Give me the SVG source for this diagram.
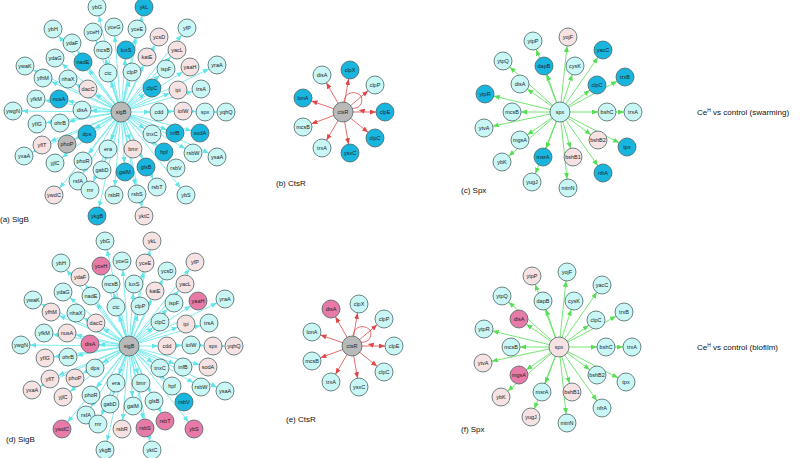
<svg xmlns="http://www.w3.org/2000/svg" width="800" height="458" viewBox="0 0 800 458">
<style>
text{font-family:"Liberation Sans",Arial,sans-serif}
.n circle{stroke:#4a6464;stroke-width:0.8}
.n text{font-size:5.5px;fill:#222;text-anchor:middle;dominant-baseline:central}
.c circle{fill:#c9f7f6}.b circle{fill:#18b5de}.p circle{fill:#f6e2e2}.h circle{fill:#e87aa8}.g circle{fill:#b9b9b9}
.ec line{stroke:#5fe6ea;stroke-width:0.8;marker-end:url(#ac)}
.er line{stroke:#e04848;stroke-width:0.8;marker-end:url(#ar)}
.eg line{stroke:#52e052;stroke-width:0.8;marker-end:url(#ag)}
.lab{font-size:8px;fill:#111}
</style>
<defs>
<marker id="ac" markerUnits="userSpaceOnUse" markerWidth="20" markerHeight="8" refX="15" refY="2.5" orient="auto"><path d="M0,0L6,2.5L0,5z" fill="#5fe6ea"/></marker>
<marker id="ar" markerUnits="userSpaceOnUse" markerWidth="20" markerHeight="8" refX="15" refY="2.5" orient="auto"><path d="M0,0L6,2.5L0,5z" fill="#e04848"/></marker>
<marker id="ag" markerUnits="userSpaceOnUse" markerWidth="20" markerHeight="8" refX="15" refY="2.5" orient="auto"><path d="M0,0L6,2.5L0,5z" fill="#52e052"/></marker>
</defs>
<rect width="800" height="458" fill="#fff"/>

<!-- SigB (a) -->
<g id="connectors-sigB-a" class="ec">
<line x1="121" y1="112" x2="97" y2="7"/><line x1="121" y1="112" x2="144" y2="7"/><line x1="121" y1="112" x2="53" y2="29"/><line x1="121" y1="112" x2="93" y2="32"/><line x1="121" y1="112" x2="114" y2="27"/><line x1="121" y1="112" x2="137" y2="29"/><line x1="121" y1="112" x2="187" y2="28"/><line x1="121" y1="112" x2="159" y2="37"/><line x1="121" y1="112" x2="72" y2="43"/><line x1="121" y1="112" x2="103" y2="50"/><line x1="121" y1="112" x2="126" y2="50"/><line x1="121" y1="112" x2="147" y2="57"/><line x1="121" y1="112" x2="177" y2="50"/><line x1="121" y1="112" x2="55" y2="58"/><line x1="121" y1="112" x2="83" y2="62"/><line x1="121" y1="112" x2="190" y2="67"/><line x1="121" y1="112" x2="217" y2="65"/><line x1="121" y1="112" x2="25" y2="66"/><line x1="121" y1="112" x2="43" y2="78"/><line x1="121" y1="112" x2="68" y2="79"/><line x1="121" y1="112" x2="108" y2="73"/><line x1="121" y1="112" x2="132" y2="72"/><line x1="121" y1="112" x2="166" y2="69"/><line x1="121" y1="112" x2="88" y2="89"/><line x1="121" y1="112" x2="152" y2="88"/><line x1="121" y1="112" x2="178" y2="90"/><line x1="121" y1="112" x2="201" y2="89"/><line x1="121" y1="112" x2="36" y2="99"/><line x1="121" y1="112" x2="59" y2="99"/><line x1="121" y1="112" x2="82" y2="110"/><line x1="121" y1="112" x2="159" y2="112"/><line x1="159" y1="112" x2="183" y2="111"/><line x1="183" y1="111" x2="205" y2="112"/><line x1="205" y1="112" x2="226" y2="112"/><line x1="121" y1="112" x2="13" y2="111"/><line x1="121" y1="112" x2="37" y2="124"/><line x1="121" y1="112" x2="60" y2="123"/><line x1="121" y1="112" x2="87" y2="134"/><line x1="121" y1="112" x2="152" y2="134"/><line x1="121" y1="112" x2="175" y2="133"/><line x1="121" y1="112" x2="200" y2="133"/><line x1="121" y1="112" x2="42" y2="145"/><line x1="121" y1="112" x2="67" y2="144"/><line x1="121" y1="112" x2="24" y2="156"/><line x1="121" y1="112" x2="55" y2="163"/><line x1="121" y1="112" x2="83" y2="161"/><line x1="121" y1="112" x2="108" y2="149"/><line x1="121" y1="112" x2="133" y2="149"/><line x1="121" y1="112" x2="164" y2="152"/><line x1="121" y1="112" x2="193" y2="153"/><line x1="121" y1="112" x2="217" y2="157"/><line x1="121" y1="112" x2="78" y2="181"/><line x1="121" y1="112" x2="102" y2="170"/><line x1="121" y1="112" x2="125" y2="172"/><line x1="121" y1="112" x2="146" y2="167"/><line x1="121" y1="112" x2="176" y2="168"/><line x1="121" y1="112" x2="54" y2="195"/><line x1="121" y1="112" x2="90" y2="190"/><line x1="121" y1="112" x2="114" y2="195"/><line x1="121" y1="112" x2="137" y2="194"/><line x1="121" y1="112" x2="157" y2="187"/><line x1="121" y1="112" x2="186" y2="195"/><line x1="121" y1="112" x2="97" y2="216"/><line x1="121" y1="112" x2="144" y2="216"/>
</g>
<g id="nodes-sigB-a">
<g id="a-ybG" class="n c"><circle cx="97" cy="7" r="9"/><text x="97" y="7">ybG</text></g>
<g id="a-ykL" class="n b"><circle cx="144" cy="7" r="9"/><text x="144" y="7">ykL</text></g>
<g id="a-ybH" class="n c"><circle cx="53" cy="29" r="9"/><text x="53" y="29">ybH</text></g>
<g id="a-yceH" class="n c"><circle cx="93" cy="32" r="9"/><text x="93" y="32">yceH</text></g>
<g id="a-yceG" class="n c"><circle cx="114" cy="27" r="9"/><text x="114" y="27">yceG</text></g>
<g id="a-yceE" class="n c"><circle cx="137" cy="29" r="9"/><text x="137" y="29">yceE</text></g>
<g id="a-yfP" class="n c"><circle cx="187" cy="28" r="9"/><text x="187" y="28">yfP</text></g>
<g id="a-ycsD" class="n p"><circle cx="159" cy="37" r="9"/><text x="159" y="37">ycsD</text></g>
<g id="a-ydaF" class="n c"><circle cx="72" cy="43" r="9"/><text x="72" y="43">ydaF</text></g>
<g id="a-mcsB" class="n c"><circle cx="103" cy="50" r="9"/><text x="103" y="50">mcsB</text></g>
<g id="a-luxS" class="n b"><circle cx="126" cy="50" r="9"/><text x="126" y="50">luxS</text></g>
<g id="a-katE" class="n p"><circle cx="147" cy="57" r="9"/><text x="147" y="57">katE</text></g>
<g id="a-yacL" class="n p"><circle cx="177" cy="50" r="9"/><text x="177" y="50">yacL</text></g>
<g id="a-ydaG" class="n c"><circle cx="55" cy="58" r="9"/><text x="55" y="58">ydaG</text></g>
<g id="a-nadE" class="n b"><circle cx="83" cy="62" r="9"/><text x="83" y="62">nadE</text></g>
<g id="a-yaaH" class="n p"><circle cx="190" cy="67" r="9"/><text x="190" y="67">yaaH</text></g>
<g id="a-yraA" class="n c"><circle cx="217" cy="65" r="9"/><text x="217" y="65">yraA</text></g>
<g id="a-ywaK" class="n c"><circle cx="25" cy="66" r="9"/><text x="25" y="66">ywaK</text></g>
<g id="a-yfhM" class="n c"><circle cx="43" cy="78" r="9"/><text x="43" y="78">yfhM</text></g>
<g id="a-nhaX" class="n c"><circle cx="68" cy="79" r="9"/><text x="68" y="79">nhaX</text></g>
<g id="a-ctc" class="n c"><circle cx="108" cy="73" r="9"/><text x="108" y="73">ctc</text></g>
<g id="a-clpP" class="n c"><circle cx="132" cy="72" r="9"/><text x="132" y="72">clpP</text></g>
<g id="a-ispF" class="n c"><circle cx="166" cy="69" r="9"/><text x="166" y="69">ispF</text></g>
<g id="a-dacC" class="n p"><circle cx="88" cy="89" r="9"/><text x="88" y="89">dacC</text></g>
<g id="a-clpC" class="n b"><circle cx="152" cy="88" r="9"/><text x="152" y="88">clpC</text></g>
<g id="a-ipi" class="n p"><circle cx="178" cy="90" r="9"/><text x="178" y="90">ipi</text></g>
<g id="a-trsA" class="n c"><circle cx="201" cy="89" r="9"/><text x="201" y="89">trsA</text></g>
<g id="a-yfkM" class="n c"><circle cx="36" cy="99" r="9"/><text x="36" y="99">yfkM</text></g>
<g id="a-nusA" class="n b"><circle cx="59" cy="99" r="9"/><text x="59" y="99">nusA</text></g>
<g id="a-disA" class="n c"><circle cx="82" cy="110" r="9"/><text x="82" y="110">disA</text></g>
<g id="a-cdd" class="n c"><circle cx="159" cy="112" r="9"/><text x="159" y="112">cdd</text></g>
<g id="a-iolW" class="n p"><circle cx="183" cy="111" r="9"/><text x="183" y="111">iolW</text></g>
<g id="a-spx" class="n c"><circle cx="205" cy="112" r="9"/><text x="205" y="112">spx</text></g>
<g id="a-yqhQ" class="n c"><circle cx="226" cy="112" r="9"/><text x="226" y="112">yqhQ</text></g>
<g id="a-ywgN" class="n c"><circle cx="13" cy="111" r="9"/><text x="13" y="111">ywgN</text></g>
<g id="a-yflG" class="n c"><circle cx="37" cy="124" r="9"/><text x="37" y="124">yflG</text></g>
<g id="a-ohrB" class="n c"><circle cx="60" cy="123" r="9"/><text x="60" y="123">ohrB</text></g>
<g id="a-dps" class="n b"><circle cx="87" cy="134" r="9"/><text x="87" y="134">dps</text></g>
<g id="a-tnxC" class="n c"><circle cx="152" cy="134" r="9"/><text x="152" y="134">tnxC</text></g>
<g id="a-infB" class="n b"><circle cx="175" cy="133" r="9"/><text x="175" y="133">infB</text></g>
<g id="a-sodA" class="n b"><circle cx="200" cy="133" r="9"/><text x="200" y="133">sodA</text></g>
<g id="a-yflT" class="n p"><circle cx="42" cy="145" r="9"/><text x="42" y="145">yflT</text></g>
<g id="a-phoP" class="n g"><circle cx="67" cy="144" r="9"/><text x="67" y="144">phoP</text></g>
<g id="a-yxaA" class="n c"><circle cx="24" cy="156" r="9"/><text x="24" y="156">yxaA</text></g>
<g id="a-yjlC" class="n c"><circle cx="55" cy="163" r="9"/><text x="55" y="163">yjlC</text></g>
<g id="a-phoR" class="n c"><circle cx="83" cy="161" r="9"/><text x="83" y="161">phoR</text></g>
<g id="a-era" class="n c"><circle cx="108" cy="149" r="9"/><text x="108" y="149">era</text></g>
<g id="a-bmr" class="n p"><circle cx="133" cy="149" r="9"/><text x="133" y="149">bmr</text></g>
<g id="a-hpf" class="n b"><circle cx="164" cy="152" r="9"/><text x="164" y="152">hpf</text></g>
<g id="a-rsbW" class="n c"><circle cx="193" cy="153" r="9"/><text x="193" y="153">rsbW</text></g>
<g id="a-ysaA" class="n c"><circle cx="217" cy="157" r="9"/><text x="217" y="157">ysaA</text></g>
<g id="a-rsfA" class="n c"><circle cx="78" cy="181" r="9"/><text x="78" y="181">rsfA</text></g>
<g id="a-gabD" class="n c"><circle cx="102" cy="170" r="9"/><text x="102" y="170">gabD</text></g>
<g id="a-galM" class="n b"><circle cx="125" cy="172" r="9"/><text x="125" y="172">galM</text></g>
<g id="a-glsB" class="n b"><circle cx="146" cy="167" r="9"/><text x="146" y="167">glsB</text></g>
<g id="a-rsbV" class="n c"><circle cx="176" cy="168" r="9"/><text x="176" y="168">rsbV</text></g>
<g id="a-ywdC" class="n p"><circle cx="54" cy="195" r="9"/><text x="54" y="195">ywdC</text></g>
<g id="a-rnr" class="n c"><circle cx="90" cy="190" r="9"/><text x="90" y="190">rnr</text></g>
<g id="a-rsbR" class="n c"><circle cx="114" cy="195" r="9"/><text x="114" y="195">rsbR</text></g>
<g id="a-rsbS" class="n c"><circle cx="137" cy="194" r="9"/><text x="137" y="194">rsbS</text></g>
<g id="a-rsbT" class="n c"><circle cx="157" cy="187" r="9"/><text x="157" y="187">rsbT</text></g>
<g id="a-ybS" class="n c"><circle cx="186" cy="195" r="9"/><text x="186" y="195">ybS</text></g>
<g id="a-ykgB" class="n b"><circle cx="97" cy="216" r="9"/><text x="97" y="216">ykgB</text></g>
<g id="a-yktC" class="n p"><circle cx="144" cy="216" r="9"/><text x="144" y="216">yktC</text></g>
<g id="a-sigB" class="n g"><circle cx="121" cy="112" r="10"/><text x="121" y="112">sigB</text></g>
</g>
<text class="lab" x="0" y="222">(a) SigB</text>

<!-- SigB (d) -->
<g transform="translate(8,234)">
<use href="#connectors-sigB-a"/>
<g id="nodes-sigB-d">
<g id="d-ybG" class="n c"><circle cx="97" cy="7" r="9"/><text x="97" y="7">ybG</text></g>
<g id="d-ykL" class="n p"><circle cx="144" cy="7" r="9"/><text x="144" y="7">ykL</text></g>
<g id="d-ybH" class="n c"><circle cx="53" cy="29" r="9"/><text x="53" y="29">ybH</text></g>
<g id="d-yceH" class="n h"><circle cx="93" cy="32" r="9"/><text x="93" y="32">yceH</text></g>
<g id="d-yceG" class="n c"><circle cx="114" cy="27" r="9"/><text x="114" y="27">yceG</text></g>
<g id="d-yceE" class="n p"><circle cx="137" cy="29" r="9"/><text x="137" y="29">yceE</text></g>
<g id="d-yfP" class="n p"><circle cx="187" cy="28" r="9"/><text x="187" y="28">yfP</text></g>
<g id="d-ycsD" class="n c"><circle cx="159" cy="37" r="9"/><text x="159" y="37">ycsD</text></g>
<g id="d-ydaF" class="n p"><circle cx="72" cy="43" r="9"/><text x="72" y="43">ydaF</text></g>
<g id="d-mcsB" class="n c"><circle cx="103" cy="50" r="9"/><text x="103" y="50">mcsB</text></g>
<g id="d-luxS" class="n c"><circle cx="126" cy="50" r="9"/><text x="126" y="50">luxS</text></g>
<g id="d-katE" class="n p"><circle cx="147" cy="57" r="9"/><text x="147" y="57">katE</text></g>
<g id="d-yacL" class="n p"><circle cx="177" cy="50" r="9"/><text x="177" y="50">yacL</text></g>
<g id="d-ydaG" class="n c"><circle cx="55" cy="58" r="9"/><text x="55" y="58">ydaG</text></g>
<g id="d-nadE" class="n c"><circle cx="83" cy="62" r="9"/><text x="83" y="62">nadE</text></g>
<g id="d-yaaH" class="n h"><circle cx="190" cy="67" r="9"/><text x="190" y="67">yaaH</text></g>
<g id="d-yraA" class="n c"><circle cx="217" cy="65" r="9"/><text x="217" y="65">yraA</text></g>
<g id="d-ywaK" class="n c"><circle cx="25" cy="66" r="9"/><text x="25" y="66">ywaK</text></g>
<g id="d-yfhM" class="n p"><circle cx="43" cy="78" r="9"/><text x="43" y="78">yfhM</text></g>
<g id="d-nhaX" class="n c"><circle cx="68" cy="79" r="9"/><text x="68" y="79">nhaX</text></g>
<g id="d-ctc" class="n c"><circle cx="108" cy="73" r="9"/><text x="108" y="73">ctc</text></g>
<g id="d-clpP" class="n c"><circle cx="132" cy="72" r="9"/><text x="132" y="72">clpP</text></g>
<g id="d-ispF" class="n c"><circle cx="166" cy="69" r="9"/><text x="166" y="69">ispF</text></g>
<g id="d-dacC" class="n p"><circle cx="88" cy="89" r="9"/><text x="88" y="89">dacC</text></g>
<g id="d-clpC" class="n c"><circle cx="152" cy="88" r="9"/><text x="152" y="88">clpC</text></g>
<g id="d-ipi" class="n p"><circle cx="178" cy="90" r="9"/><text x="178" y="90">ipi</text></g>
<g id="d-trsA" class="n c"><circle cx="201" cy="89" r="9"/><text x="201" y="89">trsA</text></g>
<g id="d-yfkM" class="n c"><circle cx="36" cy="99" r="9"/><text x="36" y="99">yfkM</text></g>
<g id="d-nusA" class="n p"><circle cx="59" cy="99" r="9"/><text x="59" y="99">nusA</text></g>
<g id="d-disA" class="n h"><circle cx="82" cy="110" r="9"/><text x="82" y="110">disA</text></g>
<g id="d-cdd" class="n p"><circle cx="159" cy="112" r="9"/><text x="159" y="112">cdd</text></g>
<g id="d-iolW" class="n c"><circle cx="183" cy="111" r="9"/><text x="183" y="111">iolW</text></g>
<g id="d-spx" class="n p"><circle cx="205" cy="112" r="9"/><text x="205" y="112">spx</text></g>
<g id="d-yqhQ" class="n p"><circle cx="226" cy="112" r="9"/><text x="226" y="112">yqhQ</text></g>
<g id="d-ywgN" class="n c"><circle cx="13" cy="111" r="9"/><text x="13" y="111">ywgN</text></g>
<g id="d-yflG" class="n p"><circle cx="37" cy="124" r="9"/><text x="37" y="124">yflG</text></g>
<g id="d-ohrB" class="n c"><circle cx="60" cy="123" r="9"/><text x="60" y="123">ohrB</text></g>
<g id="d-dps" class="n c"><circle cx="87" cy="134" r="9"/><text x="87" y="134">dps</text></g>
<g id="d-tnxC" class="n c"><circle cx="152" cy="134" r="9"/><text x="152" y="134">tnxC</text></g>
<g id="d-infB" class="n c"><circle cx="175" cy="133" r="9"/><text x="175" y="133">infB</text></g>
<g id="d-sodA" class="n p"><circle cx="200" cy="133" r="9"/><text x="200" y="133">sodA</text></g>
<g id="d-yflT" class="n p"><circle cx="42" cy="145" r="9"/><text x="42" y="145">yflT</text></g>
<g id="d-phoP" class="n p"><circle cx="67" cy="144" r="9"/><text x="67" y="144">phoP</text></g>
<g id="d-yxaA" class="n p"><circle cx="24" cy="156" r="9"/><text x="24" y="156">yxaA</text></g>
<g id="d-yjlC" class="n p"><circle cx="55" cy="163" r="9"/><text x="55" y="163">yjlC</text></g>
<g id="d-phoR" class="n c"><circle cx="83" cy="161" r="9"/><text x="83" y="161">phoR</text></g>
<g id="d-era" class="n c"><circle cx="108" cy="149" r="9"/><text x="108" y="149">era</text></g>
<g id="d-bmr" class="n c"><circle cx="133" cy="149" r="9"/><text x="133" y="149">bmr</text></g>
<g id="d-hpf" class="n c"><circle cx="164" cy="152" r="9"/><text x="164" y="152">hpf</text></g>
<g id="d-rsbW" class="n c"><circle cx="193" cy="153" r="9"/><text x="193" y="153">rsbW</text></g>
<g id="d-ysaA" class="n c"><circle cx="217" cy="157" r="9"/><text x="217" y="157">ysaA</text></g>
<g id="d-rsfA" class="n c"><circle cx="78" cy="181" r="9"/><text x="78" y="181">rsfA</text></g>
<g id="d-gabD" class="n c"><circle cx="102" cy="170" r="9"/><text x="102" y="170">gabD</text></g>
<g id="d-galM" class="n c"><circle cx="125" cy="172" r="9"/><text x="125" y="172">galM</text></g>
<g id="d-glsB" class="n c"><circle cx="146" cy="167" r="9"/><text x="146" y="167">glsB</text></g>
<g id="d-rsbV" class="n b"><circle cx="176" cy="168" r="9"/><text x="176" y="168">rsbV</text></g>
<g id="d-ywdC" class="n h"><circle cx="54" cy="195" r="9"/><text x="54" y="195">ywdC</text></g>
<g id="d-rnr" class="n c"><circle cx="90" cy="190" r="9"/><text x="90" y="190">rnr</text></g>
<g id="d-rsbR" class="n p"><circle cx="114" cy="195" r="9"/><text x="114" y="195">rsbR</text></g>
<g id="d-rsbS" class="n h"><circle cx="137" cy="194" r="9"/><text x="137" y="194">rsbS</text></g>
<g id="d-rsbT" class="n h"><circle cx="157" cy="187" r="9"/><text x="157" y="187">rsbT</text></g>
<g id="d-ybS" class="n h"><circle cx="186" cy="195" r="9"/><text x="186" y="195">ybS</text></g>
<g id="d-ykgB" class="n c"><circle cx="97" cy="216" r="9"/><text x="97" y="216">ykgB</text></g>
<g id="d-yktC" class="n c"><circle cx="144" cy="216" r="9"/><text x="144" y="216">yktC</text></g>
<g id="d-sigB" class="n g"><circle cx="121" cy="112" r="10"/><text x="121" y="112">sigB</text></g>
</g>
</g>
<text class="lab" x="6" y="442">(d) SigB</text>

<!-- CtsR (b) -->
<g id="connectors-ctsR-b" class="er">
<line x1="343" y1="112" x2="322" y2="75"/><line x1="343" y1="112" x2="350" y2="70"/><line x1="343" y1="112" x2="375" y2="85"/><line x1="343" y1="112" x2="303" y2="98"/><line x1="343" y1="112" x2="385" y2="112"/><line x1="343" y1="112" x2="303" y2="127"/><line x1="343" y1="112" x2="375" y2="138"/><line x1="343" y1="112" x2="322" y2="148"/><line x1="343" y1="112" x2="350" y2="153"/>
<path d="M344,103 C344,92 355,90 361,96 C364,103 359,110 350,108" fill="none" stroke="#e04848" stroke-width="0.8" marker-end="url(#ar)"/>
</g>
<g id="nodes-ctsR-b">
<g id="b-disA" class="n c"><circle cx="322" cy="75" r="9"/><text x="322" y="75">disA</text></g>
<g id="b-clpX" class="n b"><circle cx="350" cy="70" r="9"/><text x="350" y="70">clpX</text></g>
<g id="b-clpP" class="n c"><circle cx="375" cy="85" r="9"/><text x="375" y="85">clpP</text></g>
<g id="b-lonA" class="n b"><circle cx="303" cy="98" r="9"/><text x="303" y="98">lonA</text></g>
<g id="b-clpE" class="n b"><circle cx="385" cy="112" r="9"/><text x="385" y="112">clpE</text></g>
<g id="b-mcsB" class="n c"><circle cx="303" cy="127" r="9"/><text x="303" y="127">mcsB</text></g>
<g id="b-clpC" class="n b"><circle cx="375" cy="138" r="9"/><text x="375" y="138">clpC</text></g>
<g id="b-trxA" class="n c"><circle cx="322" cy="148" r="9"/><text x="322" y="148">trxA</text></g>
<g id="b-ysxC" class="n b"><circle cx="350" cy="153" r="9"/><text x="350" y="153">ysxC</text></g>
<g id="b-ctsR" class="n g"><circle cx="343" cy="112" r="10"/><text x="343" y="112">ctsR</text></g>
</g>
<text class="lab" x="276" y="186">(b) CtsR</text>

<!-- CtsR (e) -->
<g transform="translate(9,234)"><use href="#connectors-ctsR-b"/></g>
<g id="nodes-ctsR-e" transform="translate(9,234)">
<g id="e-disA" class="n h"><circle cx="322" cy="75" r="9"/><text x="322" y="75">disA</text></g>
<g id="e-clpX" class="n c"><circle cx="350" cy="70" r="9"/><text x="350" y="70">clpX</text></g>
<g id="e-clpP" class="n c"><circle cx="375" cy="85" r="9"/><text x="375" y="85">clpP</text></g>
<g id="e-lonA" class="n c"><circle cx="303" cy="98" r="9"/><text x="303" y="98">lonA</text></g>
<g id="e-clpE" class="n c"><circle cx="385" cy="112" r="9"/><text x="385" y="112">clpE</text></g>
<g id="e-mcsB" class="n c"><circle cx="303" cy="127" r="9"/><text x="303" y="127">mcsB</text></g>
<g id="e-clpC" class="n c"><circle cx="375" cy="138" r="9"/><text x="375" y="138">clpC</text></g>
<g id="e-trxA" class="n c"><circle cx="322" cy="148" r="9"/><text x="322" y="148">trxA</text></g>
<g id="e-ysxC" class="n c"><circle cx="350" cy="153" r="9"/><text x="350" y="153">ysxC</text></g>
<g id="e-ctsR" class="n g"><circle cx="343" cy="112" r="10"/><text x="343" y="112">ctsR</text></g>
</g>
<text class="lab" x="286" y="422">(e) CtsR</text>

<!-- Spx (c) -->
<g id="connectors-spx-c" class="eg">
<line x1="560" y1="112" x2="568" y2="37"/><line x1="560" y1="112" x2="533" y2="41"/><line x1="560" y1="112" x2="603" y2="50"/><line x1="560" y1="112" x2="503" y2="61"/><line x1="560" y1="112" x2="544" y2="66"/><line x1="560" y1="112" x2="575" y2="66"/><line x1="560" y1="112" x2="625" y2="77"/><line x1="560" y1="112" x2="520" y2="84"/><line x1="560" y1="112" x2="597" y2="85"/><line x1="560" y1="112" x2="485" y2="94"/><line x1="560" y1="112" x2="512" y2="112"/><line x1="560" y1="112" x2="607" y2="112"/><line x1="607" y1="112" x2="633" y2="112"/><line x1="560" y1="112" x2="484" y2="128"/><line x1="560" y1="112" x2="520" y2="140"/><line x1="560" y1="112" x2="598" y2="140"/><line x1="560" y1="112" x2="627" y2="147"/><line x1="560" y1="112" x2="502" y2="162"/><line x1="560" y1="112" x2="543" y2="157"/><line x1="560" y1="112" x2="573" y2="157"/><line x1="560" y1="112" x2="603" y2="173"/><line x1="560" y1="112" x2="532" y2="182"/><line x1="560" y1="112" x2="568" y2="188"/>
</g>
<g id="nodes-spx-c">
<g id="c-yojF" class="n p"><circle cx="568" cy="37" r="9"/><text x="568" y="37">yojF</text></g>
<g id="c-ytpP" class="n c"><circle cx="533" cy="41" r="9"/><text x="533" y="41">ytpP</text></g>
<g id="c-yacC" class="n b"><circle cx="603" cy="50" r="9"/><text x="603" y="50">yacC</text></g>
<g id="c-ytpQ" class="n c"><circle cx="503" cy="61" r="9"/><text x="503" y="61">ytpQ</text></g>
<g id="c-dapB" class="n b"><circle cx="544" cy="66" r="9"/><text x="544" y="66">dapB</text></g>
<g id="c-cysK" class="n c"><circle cx="575" cy="66" r="9"/><text x="575" y="66">cysK</text></g>
<g id="c-trxB" class="n b"><circle cx="625" cy="77" r="9"/><text x="625" y="77">trxB</text></g>
<g id="c-disA" class="n c"><circle cx="520" cy="84" r="9"/><text x="520" y="84">disA</text></g>
<g id="c-clpC" class="n b"><circle cx="597" cy="85" r="9"/><text x="597" y="85">clpC</text></g>
<g id="c-ytpR" class="n b"><circle cx="485" cy="94" r="9"/><text x="485" y="94">ytpR</text></g>
<g id="c-mcsB" class="n c"><circle cx="512" cy="112" r="9"/><text x="512" y="112">mcsB</text></g>
<g id="c-bshC" class="n c"><circle cx="607" cy="112" r="9"/><text x="607" y="112">bshC</text></g>
<g id="c-trxA" class="n c"><circle cx="633" cy="112" r="9"/><text x="633" y="112">trxA</text></g>
<g id="c-ytvA" class="n c"><circle cx="484" cy="128" r="9"/><text x="484" y="128">ytvA</text></g>
<g id="c-mgsA" class="n c"><circle cx="520" cy="140" r="9"/><text x="520" y="140">mgsA</text></g>
<g id="c-bshB2" class="n p"><circle cx="598" cy="140" r="9"/><text x="598" y="140">bshB2</text></g>
<g id="c-tpx" class="n b"><circle cx="627" cy="147" r="9"/><text x="627" y="147">tpx</text></g>
<g id="c-ybK" class="n c"><circle cx="502" cy="162" r="9"/><text x="502" y="162">ybK</text></g>
<g id="c-msrA" class="n b"><circle cx="543" cy="157" r="9"/><text x="543" y="157">msrA</text></g>
<g id="c-bshB1" class="n p"><circle cx="573" cy="157" r="9"/><text x="573" y="157">bshB1</text></g>
<g id="c-nfrA" class="n b"><circle cx="603" cy="173" r="9"/><text x="603" y="173">nfrA</text></g>
<g id="c-yugJ" class="n c"><circle cx="532" cy="182" r="9"/><text x="532" y="182">yugJ</text></g>
<g id="c-mtnN" class="n c"><circle cx="568" cy="188" r="9"/><text x="568" y="188">mtnN</text></g>
<g id="c-spx" class="n c"><circle cx="560" cy="112" r="10"/><text x="560" y="112">spx</text></g>
</g>
<text class="lab" x="461" y="193">(c) Spx</text>

<!-- Spx (f) -->
<g transform="translate(-1,235)"><use href="#connectors-spx-c"/></g>
<g id="nodes-spx-f" transform="translate(-1,235)">
<g id="f-yojF" class="n c"><circle cx="568" cy="37" r="9"/><text x="568" y="37">yojF</text></g>
<g id="f-ytpP" class="n p"><circle cx="533" cy="41" r="9"/><text x="533" y="41">ytpP</text></g>
<g id="f-yacC" class="n c"><circle cx="603" cy="50" r="9"/><text x="603" y="50">yacC</text></g>
<g id="f-ytpQ" class="n c"><circle cx="503" cy="61" r="9"/><text x="503" y="61">ytpQ</text></g>
<g id="f-dapB" class="n c"><circle cx="544" cy="66" r="9"/><text x="544" y="66">dapB</text></g>
<g id="f-cysK" class="n c"><circle cx="575" cy="66" r="9"/><text x="575" y="66">cysK</text></g>
<g id="f-trxB" class="n c"><circle cx="625" cy="77" r="9"/><text x="625" y="77">trxB</text></g>
<g id="f-disA" class="n h"><circle cx="520" cy="84" r="9"/><text x="520" y="84">disA</text></g>
<g id="f-clpC" class="n c"><circle cx="597" cy="85" r="9"/><text x="597" y="85">clpC</text></g>
<g id="f-ytpR" class="n c"><circle cx="485" cy="94" r="9"/><text x="485" y="94">ytpR</text></g>
<g id="f-mcsB" class="n c"><circle cx="512" cy="112" r="9"/><text x="512" y="112">mcsB</text></g>
<g id="f-bshC" class="n c"><circle cx="607" cy="112" r="9"/><text x="607" y="112">bshC</text></g>
<g id="f-trxA" class="n c"><circle cx="633" cy="112" r="9"/><text x="633" y="112">trxA</text></g>
<g id="f-ytvA" class="n p"><circle cx="484" cy="128" r="9"/><text x="484" y="128">ytvA</text></g>
<g id="f-mgsA" class="n h"><circle cx="520" cy="140" r="9"/><text x="520" y="140">mgsA</text></g>
<g id="f-bshB2" class="n c"><circle cx="598" cy="140" r="9"/><text x="598" y="140">bshB2</text></g>
<g id="f-tpx" class="n c"><circle cx="627" cy="147" r="9"/><text x="627" y="147">tpx</text></g>
<g id="f-ybK" class="n p"><circle cx="502" cy="162" r="9"/><text x="502" y="162">ybK</text></g>
<g id="f-msrA" class="n c"><circle cx="543" cy="157" r="9"/><text x="543" y="157">msrA</text></g>
<g id="f-bshB1" class="n p"><circle cx="573" cy="157" r="9"/><text x="573" y="157">bshB1</text></g>
<g id="f-nfrA" class="n c"><circle cx="603" cy="173" r="9"/><text x="603" y="173">nfrA</text></g>
<g id="f-yugJ" class="n p"><circle cx="532" cy="182" r="9"/><text x="532" y="182">yugJ</text></g>
<g id="f-mtnN" class="n c"><circle cx="568" cy="188" r="9"/><text x="568" y="188">mtnN</text></g>
<g id="f-spx" class="n p"><circle cx="560" cy="112" r="10"/><text x="560" y="112">spx</text></g>
</g>
<text class="lab" x="461" y="432">(f) Spx</text>

<text class="lab" x="697" y="115" font-size="7.5">Ce<tspan font-size="5" dy="-3">H</tspan><tspan dy="3"> vs control (swarming)</tspan></text>
<text class="lab" x="697" y="350" font-size="7.5">Ce<tspan font-size="5" dy="-3">H</tspan><tspan dy="3"> vs control (biofilm)</tspan></text>
</svg>
